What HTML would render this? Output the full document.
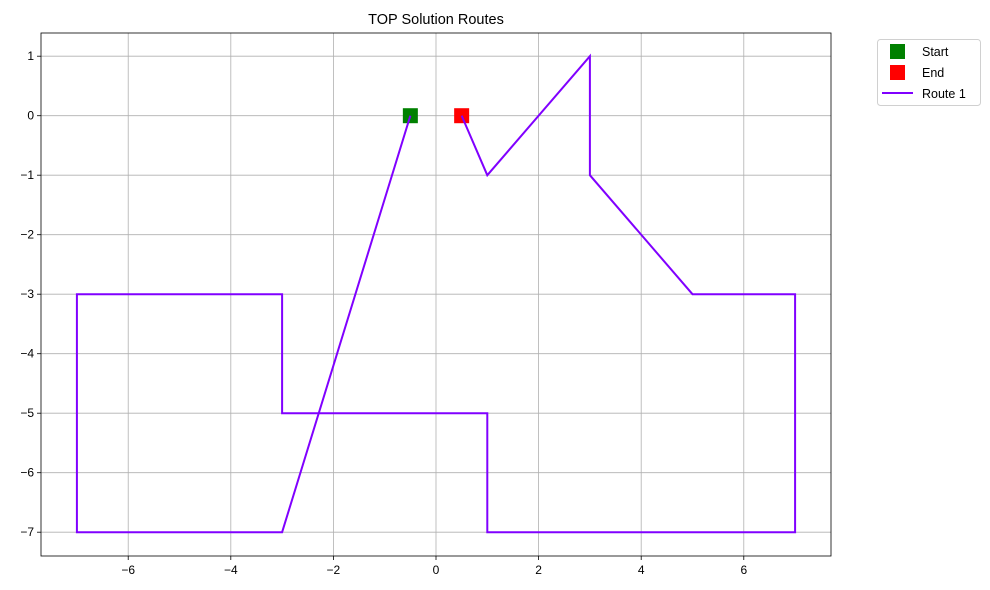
<!DOCTYPE html>
<html><head><meta charset="utf-8"><style>
body{margin:0;background:#fff;}
svg{display:block;font-family:"Liberation Sans","DejaVu Sans",sans-serif;}
</style></head><body>
<svg id="chart" width="990" height="590"></svg>
<script>
const xTicks=[-6,-4,-2,0,2,4,6];
const yTicks=[1,0,-1,-2,-3,-4,-5,-6,-7];
const routeX=[-0.5,-3,-7,-7,-3,-3,1,1,7,7,5,3,3,1,0.5];
const routeY=[0,-7,-7,-3,-3,-5,-5,-7,-7,-3,-3,-1,1,-1,0];
const startPt=[-0.5,0];
const endPt=[0.5,0];
const L=41,R=831,T=33,B=556;
const xMin=-7.7,xMax=7.7,yMin=-7.4,yMax=1.39;
const sx=v=>L+(v-xMin)/(xMax-xMin)*(R-L);
const sy=v=>B-(v-yMin)/(yMax-yMin)*(B-T);
const svg=document.getElementById('chart');
const NS='http://www.w3.org/2000/svg';
function mk(tag,attrs,parent){const e=document.createElementNS(NS,tag);for(const k in attrs)e.setAttribute(k,attrs[k]);(parent||svg).appendChild(e);return e;}
function txt(s,attrs){const e=mk('text',attrs);e.textContent=s;return e;}

const grid=mk('g',{});


xTicks.forEach(v=>{const l=mk('line',{x1:sx(v),x2:sx(v),y1:T,y2:B,stroke:'#b0b0b0','stroke-width':0.8},grid);
});
yTicks.forEach(v=>{const l=mk('line',{x1:L,x2:R,y1:sy(v),y2:sy(v),stroke:'#b0b0b0','stroke-width':0.8},grid);
});

xTicks.forEach(v=>{mk('line',{x1:sx(v),x2:sx(v),y1:B,y2:B+4,stroke:'#000','stroke-width':0.8});
const t=txt(v<0?'\u2212'+(-v):String(v),{x:sx(v),y:B+18,'text-anchor':'middle','font-size':12,fill:'#000'});
});
yTicks.forEach(v=>{mk('line',{x1:L-4,x2:L,y1:sy(v),y2:sy(v),stroke:'#000','stroke-width':0.8});
const t=txt(v<0?'\u2212'+(-v):String(v),{x:L-7,y:sy(v)+4,'text-anchor':'end','font-size':12,fill:'#000'});
});

const s=mk('rect',{x:sx(startPt[0])-7.5,y:sy(startPt[1])-7.5,width:15,height:15,fill:'#008000'});

const e=mk('rect',{x:sx(endPt[0])-7.5,y:sy(endPt[1])-7.5,width:15,height:15,fill:'#ff0000'});


const pts=routeX.map((x,i)=>sx(x)+','+sy(routeY[i])).join(' ');
const route=mk('polyline',{points:pts,fill:'none',stroke:'#8000ff','stroke-width':2,'stroke-linejoin':'miter'});


const frame=mk('rect',{x:L,y:T,width:R-L,height:B-T,fill:'none',stroke:'#000','stroke-width':0.8});


const title=txt('TOP Solution Routes',{x:(L+R)/2,y:24,'text-anchor':'middle','font-size':14.5,fill:'#000'});


const lg=mk('g',{});

mk('rect',{x:877.5,y:39.5,width:103,height:66,rx:3,fill:'#fff',stroke:'#d0d0d0','stroke-width':1},lg);
mk('rect',{x:890,y:44,width:15,height:15,fill:'#008000'},lg);
mk('rect',{x:890,y:65,width:15,height:15,fill:'#ff0000'},lg);
mk('line',{x1:882,x2:913,y1:93,y2:93,stroke:'#8000ff','stroke-width':2},lg);
const labels=[['Start',56,'legend-entry-start'],['End',77,'legend-entry-end'],['Route 1',98,'legend-entry-route-1']];
labels.forEach(([s,y,n])=>{const t=mk('text',{x:922,y:y,'font-size':12.5,fill:'#000'},lg);t.textContent=s;
});
</script>
</body></html>
